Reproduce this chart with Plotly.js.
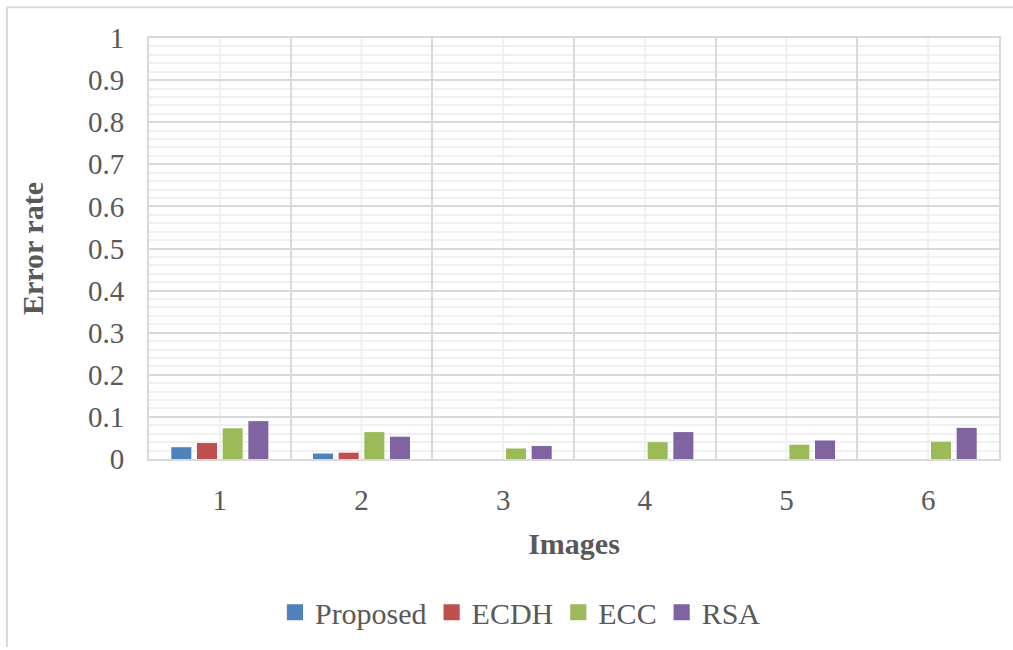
<!DOCTYPE html>
<html>
<head>
<meta charset="utf-8">
<script src="https://cdn.plot.ly/plotly-3.0.1.min.js"></script>
<style>
  html, body { margin: 0; padding: 0; background: #ffffff; }
  #chart { width: 1013px; height: 650px; }
</style>
</head>
<body>
<div id="chart"></div>
<script>
// Image indices on the x axis
const images = ['1', '2', '3', '4', '5', '6'];

// Error rate per image for each scheme
const proposed = [0.028, 0.013, 0, 0, 0, 0];
const ecdh     = [0.038, 0.015, 0, 0, 0, 0];
const ecc      = [0.073, 0.064, 0.025, 0.040, 0.034, 0.041];
const rsa      = [0.090, 0.053, 0.031, 0.064, 0.044, 0.074];

const seriesNames = ['Proposed', 'ECDH', 'ECC', 'RSA'];
const seriesValues = [proposed, ecdh, ecc, rsa];
const seriesColors = ['#4f81bd', '#c0504d', '#9bbb59', '#8064a2'];

const yTicks = [0, 0.1, 0.2, 0.3, 0.4, 0.5, 0.6, 0.7, 0.8, 0.9, 1];
const yTickText = ['0', '0.1', '0.2', '0.3', '0.4', '0.5', '0.6', '0.7', '0.8', '0.9', '1'];

const textColor = '#595959';
const serif = '"Liberation Serif", "Times New Roman", serif';
const majorGrid = '#d9d9d9';
const minorGrid = '#f0f0f0';

const traces = seriesNames.map((name, i) => ({
  type: 'bar',
  name: name,
  x: images,
  y: seriesValues[i],
  marker: { color: seriesColors[i] },
  hoverinfo: 'x+y+name'
}));

// light vertical guide lines through each category centre (category index positions)
const centreLines = images.map((c, i) => ({
  type: 'line', layer: 'below',
  xref: 'x', yref: 'paper',
  x0: i, x1: i, y0: 0, y1: 1,
  line: { color: minorGrid, width: 2 }
}));

// outer chart frame (top and left edges visible)
const frame = [
  { type: 'line', xref: 'paper', yref: 'paper',
    x0: (7 - 149) / 850, x1: (1013 - 149) / 850,
    y0: (650 - 7 - 189) / 423, y1: (650 - 7 - 189) / 423,
    line: { color: '#d9d9d9', width: 2 } },
  { type: 'line', xref: 'paper', yref: 'paper',
    x0: (7 - 149) / 850, x1: (7 - 149) / 850,
    y0: (650 - 7 - 189) / 423, y1: -189 / 423,
    line: { color: '#d9d9d9', width: 2 } }
];

const layout = {
  width: 1013,
  height: 650,
  margin: { l: 149, r: 14, t: 38, b: 189 },
  paper_bgcolor: '#ffffff',
  plot_bgcolor: '#ffffff',
  barmode: 'group',
  bargap: 0.275,
  bargroupgap: 0.22,
  font: { family: serif, color: textColor, size: 29 },
  xaxis: {
    type: 'category',
    range: [-0.5, images.length - 0.5],
    tickson: 'boundaries',
    showgrid: true,
    gridcolor: majorGrid,
    gridwidth: 2,
    showline: true,
    linecolor: majorGrid,
    linewidth: 2,
    mirror: true,
    ticks: '',
    ticklabelstandoff: 14,
    tickfont: { family: serif, size: 29, color: textColor },
    title: {
      text: 'Images',
      font: { family: serif, size: 30, color: textColor, weight: 'bold' },
      standoff: 18
    },
    fixedrange: true
  },
  yaxis: {
    range: [0, 1],
    tickvals: yTicks,
    ticktext: yTickText,
    showgrid: true,
    gridcolor: majorGrid,
    gridwidth: 2,
    zeroline: false,
    showline: true,
    linecolor: majorGrid,
    linewidth: 2,
    mirror: true,
    ticks: '',
    ticklabelstandoff: 17,
    tickfont: { family: serif, size: 29, color: textColor },
    minor: { dtick: 0.02, showgrid: true, gridcolor: minorGrid, gridwidth: 2 },
    title: {
      text: 'Error rate',
      font: { family: serif, size: 30, color: textColor, weight: 'bold' },
      standoff: 35
    },
    fixedrange: true
  },
  legend: {
    orientation: 'h',
    x: 0.437,
    xanchor: 'center',
    y: -0.364,
    yanchor: 'middle',
    font: { family: serif, size: 30, color: textColor },
    itemwidth: 30,
    traceorder: 'normal'
  },
  shapes: centreLines.concat(frame),
  showlegend: true
};

Plotly.newPlot('chart', traces, layout, { displayModeBar: false, staticPlot: true }).then(gd => {
  // enlarge the legend swatches, keeping their own placement
  gd.querySelectorAll('.legend .legendpoints path').forEach(p => {
    const t = p.getAttribute('transform') || '';
    p.setAttribute('transform', (t + ' scale(1.35)').trim());
  });
});
</script>
</body>
</html>
